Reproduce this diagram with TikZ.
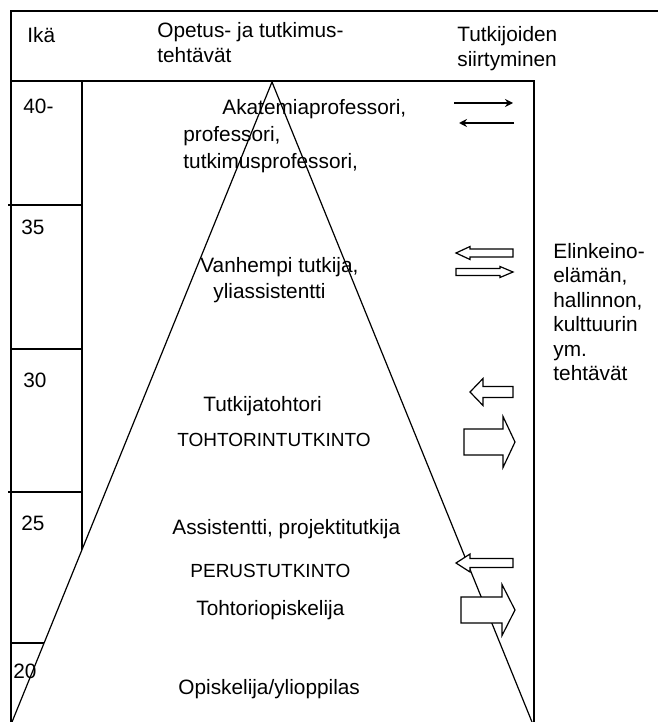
\documentclass[tikz,border=0pt]{standalone}
\usepackage{fontspec}
\setmainfont{Liberation Sans}
\usetikzlibrary{arrows.meta}

\def\boxright{534}
\def\apexx{272}
\def\apexy{82}
\tikzset{
   gridline/.style={draw=black, line width=0.7pt},
   pyramidline/.style={draw=black, fill=white, line width=0.6pt},
   rolelabel/.style={anchor=base west, inner sep=0pt, font=\fontsize{10.4}{12.5}\selectfont},
   caplabel/.style={rolelabel, font=\fontsize{9.5}{11.5}\selectfont},
   flowarrow/.style={draw=black, fill=white, line width=0.6pt, line join=miter},
   movearrow/.style={-{Stealth[length=4pt, width=4pt]}, line width=0.7pt}
}

\begin{document}
\begin{tikzpicture}[x=0.5pt, y=-0.5pt]
\useasboundingbox (0,0) rectangle (658,722);

% frame and age column
\draw[gridline] (11,722) -- (11,11) -- (658,11);
\draw[gridline] (11,81) -- (\boxright,81) -- (\boxright,722);
\draw[gridline] (82,81) -- (82,722);
\foreach \yy/\xa in {205/8, 349/11, 492/8, 643/11} {
    \draw[gridline] (\xa,\yy) -- (82,\yy);
}

% pyramid
\draw[pyramidline] (12,722) -- (\apexx,\apexy) -- (532,722);

% header
\node[rolelabel] (ika) at (27,43) {Ikä};
\node[rolelabel] (tasks1) at (157,38) {Opetus- ja tutkimus-};
\node[rolelabel] (tasks2) at (157,63) {tehtävät};
\node[rolelabel] (move1) at (457,42) {Tutkijoiden};
\node[rolelabel] (move2) at (457,67) {siirtyminen};

% ages
\foreach \age/\xx/\yy [count=\i] in {40-/23/113, 35/21/234, 30/23/387, 25/21/530, 20/13/678} {
    \node[rolelabel] (age-\i) at (\xx,\yy) {\age};
}

% roles
\node[rolelabel] (akat) at (222,114) {Akatemiaprofessori,};
\node[rolelabel] (prof) at (183,141) {professori,};
\node[rolelabel] (tprof) at (183,168) {tutkimusprofessori,};
\node[rolelabel] (vanh) at (200,272) {Vanhempi tutkija,};
\node[rolelabel] (ylias) at (213,298) {yliassistentti};
\node[rolelabel] (postdoc) at (203,411) {Tutkijatohtori};
\node[caplabel] (tohtori) at (177,446) {TOHTORINTUTKINTO};
\node[rolelabel] (assist) at (172,534) {Assistentti, projektitutkija};
\node[caplabel] (perus) at (190,577) {PERUSTUTKINTO};
\node[rolelabel] (tohopi) at (196,615) {Tohtoriopiskelija};
\node[rolelabel] (opisk) at (178,694) {Opiskelija/ylioppilas};

% outside work
\foreach \txt/\yy [count=\i] in {Elinkeino-/258, {elämän,}/282, {hallinnon,}/307, kulttuurin/331, ym./356, tehtävät/380} {
    \node[rolelabel] (work-\i) at (553,\yy) {\txt};
}

% movement arrows
\coordinate (inL) at (454,103);
\coordinate (inR) at (513,103);
\coordinate (outR) at (514,123);
\coordinate (outL) at (459,123);
\draw[movearrow] (inL) -- (inR);
\draw[movearrow] (outR) -- (outL);

\foreach \tail/\hbase/\tip/\cy/\hb/\hh in {513/470/456/253/4/6.5, 456/500/513/272/3.5/5.5,
        513/483/470/392/5.5/13.5, 464/503/515/442/13/25.5,
        513/470/456/563/4.5/9, 461/502/515/610/13/25.5} {
    \draw[flowarrow] (\tail,\cy-\hb) -- (\hbase,\cy-\hb) -- (\hbase,\cy-\hh) -- (\tip,\cy)
        -- (\hbase,\cy+\hh) -- (\hbase,\cy+\hb) -- (\tail,\cy+\hb) -- cycle;
}
\end{tikzpicture}
\end{document}
